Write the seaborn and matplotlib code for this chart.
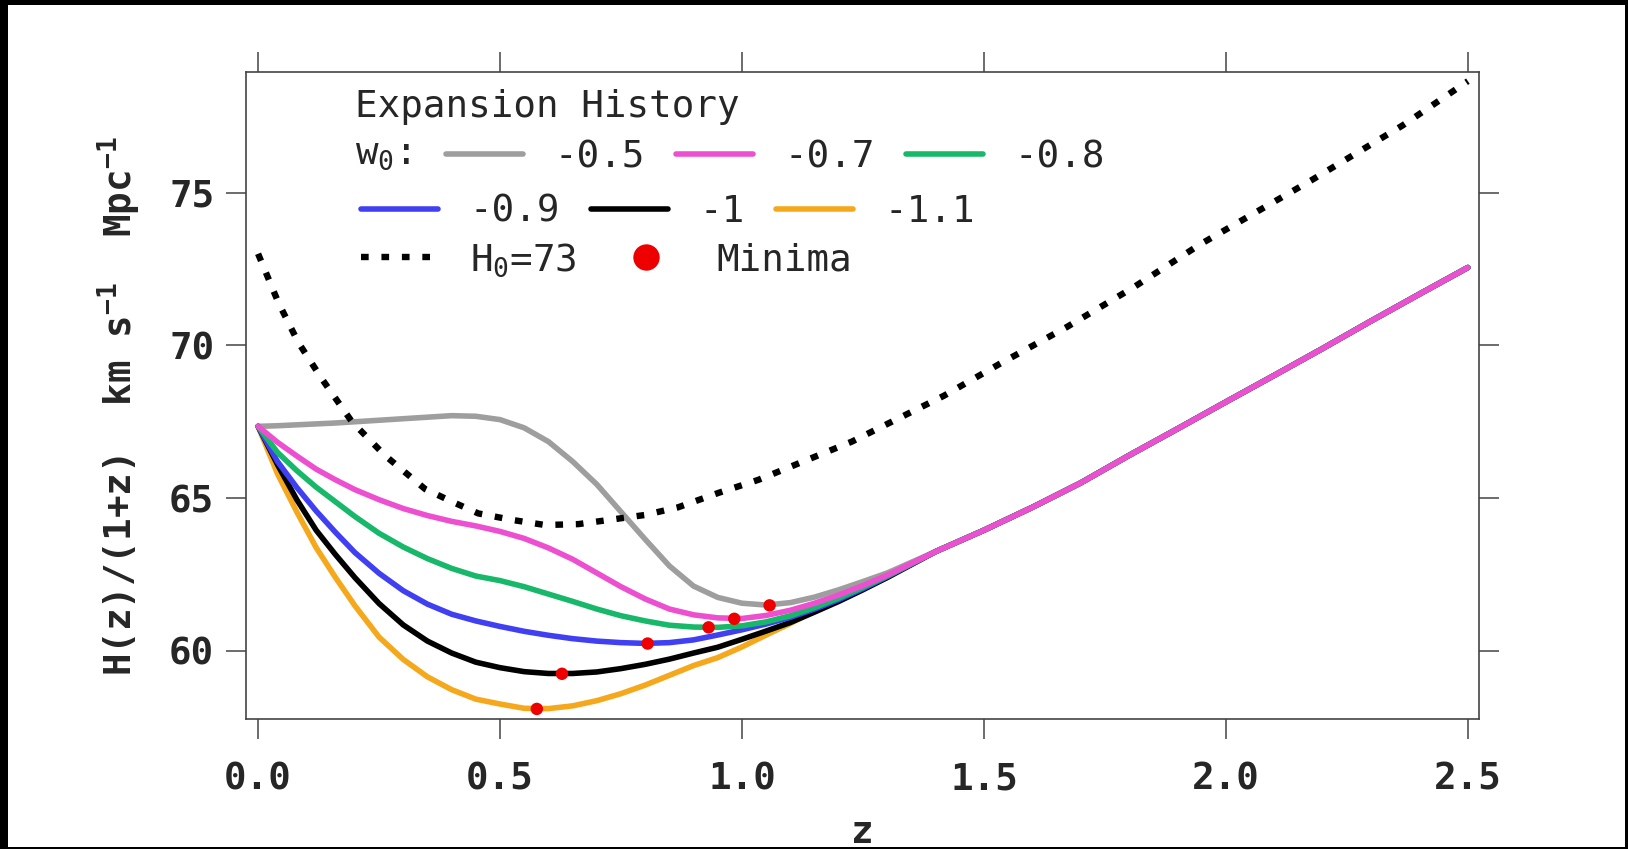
import matplotlib
matplotlib.use("Agg")
import matplotlib.pyplot as plt
from matplotlib.lines import Line2D
from matplotlib.patches import Rectangle
import numpy as np
import pandas as pd
import seaborn as sns

# redshift grid (curves differ below z~1.3, then merge)
z_early = [0, 0.04, 0.08, 0.12, 0.16, 0.2, 0.25, 0.3, 0.35, 0.4, 0.45, 0.5, 0.55, 0.6,
           0.65, 0.7, 0.75, 0.8, 0.85, 0.9, 0.95, 1.0, 1.05, 1.1, 1.15, 1.2, 1.25, 1.3]
z_tail = [1.4, 1.5, 1.6, 1.7, 1.8, 1.9, 2.0, 2.1, 2.2, 2.3, 2.4, 2.5]
h_tail = [63.25, 63.95, 64.7, 65.5, 66.4, 67.27, 68.15, 69.02, 69.9, 70.8, 71.68, 72.55]

h_w05 = [67.35, 67.37, 67.40, 67.43, 67.46, 67.50, 67.55, 67.60, 67.65, 67.70, 67.68, 67.57, 67.30, 66.85,
         66.20, 65.45, 64.55, 63.65, 62.78, 62.12, 61.75, 61.56, 61.50, 61.58, 61.76, 62.00, 62.27, 62.55]
h_w07 = [67.35, 66.83, 66.38, 65.95, 65.60, 65.28, 64.95, 64.66, 64.43, 64.24, 64.09, 63.91, 63.68, 63.37,
         63.00, 62.55, 62.10, 61.70, 61.37, 61.18, 61.08, 61.06, 61.16, 61.33, 61.56, 61.83, 62.14, 62.48]
h_w08 = [67.35, 66.50, 65.90, 65.36, 64.88, 64.40, 63.85, 63.40, 63.02, 62.70, 62.45, 62.30, 62.10, 61.86,
         61.62, 61.37, 61.15, 60.98, 60.84, 60.78, 60.77, 60.82, 60.95, 61.15, 61.42, 61.73, 62.08, 62.45]
h_w09 = [67.35, 66.20, 65.35, 64.58, 63.88, 63.22, 62.54, 61.97, 61.53, 61.20, 60.98, 60.80, 60.64, 60.51,
         60.40, 60.32, 60.27, 60.245, 60.27, 60.36, 60.52, 60.69, 60.88, 61.10, 61.37, 61.68, 62.04, 62.43]
h_w10 = [67.35, 66.10, 64.95, 63.95, 63.15, 62.40, 61.55, 60.85, 60.32, 59.93, 59.63, 59.45, 59.32, 59.26,
         59.26, 59.31, 59.42, 59.56, 59.73, 59.93, 60.12, 60.38, 60.65, 60.93, 61.27, 61.62, 62.00, 62.40]
h_w11 = [67.35, 65.80, 64.55, 63.38, 62.40, 61.48, 60.45, 59.72, 59.15, 58.73, 58.42, 58.26, 58.12, 58.11,
         58.20, 58.37, 58.60, 58.88, 59.20, 59.52, 59.78, 60.13, 60.52, 60.90, 61.31, 61.68, 62.05, 62.40]

# H0 = 73 reference curve
z_h73 = [0, 0.042, 0.083, 0.132, 0.194, 0.262, 0.345, 0.4, 0.455, 0.524, 0.593, 0.662, 0.731, 0.8,
         0.868, 0.951, 1.034, 1.227, 1.417, 1.533, 1.671, 1.809, 1.946, 2.176, 2.365, 2.5]
h_h73 = [73.0, 71.4, 70.1, 68.9, 67.5, 66.4, 65.3, 64.89, 64.5, 64.29, 64.12, 64.15, 64.3, 64.45,
         64.7, 65.17, 65.6, 66.85, 68.35, 69.4, 70.6, 71.9, 73.3, 75.4, 77.2, 78.65]

# minima of each curve
min_z = [1.057, 0.984, 0.931, 0.805, 0.628, 0.576]
min_h = [61.49, 61.05, 60.77, 60.24, 59.25, 58.10]

w0_labels = ["-0.5", "-0.7", "-0.8", "-0.9", "-1", "-1.1"]
w0_colors = ["#9E9E9E", "#EC50D0", "#18B86A", "#4040F2", "#000000", "#F5A81C"]
draw_order = ["-0.5", "-1.1", "-1", "-0.9", "-0.8", "-0.7"]

curves = [h_w05, h_w07, h_w08, h_w09, h_w10, h_w11]
frames = []
for lab, h in zip(w0_labels, curves):
    frames.append(pd.DataFrame({"z": z_early + z_tail, "H": h + h_tail, "w0": lab}))
df = pd.concat(frames, ignore_index=True)

sns.set_style("ticks")
plt.rcParams["font.family"] = ["DejaVu Sans Mono"]
plt.rcParams["mathtext.fontset"] = "custom"
plt.rcParams["mathtext.rm"] = "DejaVu Sans Mono"
plt.rcParams["mathtext.bf"] = "DejaVu Sans Mono:bold"
plt.rcParams["mathtext.it"] = "DejaVu Sans Mono:italic"

W, H = 1628, 849
fig = plt.figure(figsize=(W / 100, H / 100), dpi=100, facecolor="black")
fig.patches.append(Rectangle((8 / W, 2 / H), (1625 - 8) / W, (847 - 5) / H,
                             transform=fig.transFigure, facecolor="white", edgecolor="none", zorder=-1))
ax = fig.add_axes([245.5 / W, 1 - 719 / H, (1479 - 245.5) / W, (719 - 72) / H])
ax.set_facecolor("white")

lw_curve = 4.0
palette = dict(zip(w0_labels, w0_colors))
sns.lineplot(data=df, x="z", y="H", hue="w0", hue_order=draw_order, palette=palette,
             estimator=None, sort=False, lw=lw_curve, legend=False, ax=ax,
             solid_joinstyle="round", solid_capstyle="round")
sns.lineplot(x=z_h73, y=h_h73, color="black", lw=4.6, estimator=None, sort=False,
             linestyle=(0, (1.2, 2.0)), dash_capstyle="butt", ax=ax)
sns.scatterplot(x=min_z, y=min_h, color="#EE0000", s=80, edgecolor="none", zorder=5, ax=ax)

ax.set_xlim(-0.026, 2.523)
ax.set_ylim(57.77, 78.95)
ax.set_xticks([0, 0.5, 1.0, 1.5, 2.0, 2.5])
ax.set_xticklabels(["0.0", "0.5", "1.0", "1.5", "2.0", "2.5"])
ax.set_yticks([60, 65, 70, 75])
for s in ax.spines.values():
    s.set_color("#444444")
    s.set_linewidth(1.2)
ax.tick_params(direction="out", length=14.5, width=1.1, color="#444444",
               top=True, right=True, labeltop=False, labelright=False, labelsize=27)
ax.tick_params(axis="x", pad=16)
ax.tick_params(axis="y", pad=8)
for t in ax.get_xticklabels() + ax.get_yticklabels():
    t.set_fontweight("bold")

ax.set_xlabel("z", fontsize=27, fontweight="bold")
ax.xaxis.set_label_coords(0.5, -(843 - 719) / 647)
ax.xaxis.label.set_va("baseline")
ax.set_ylabel(r"H(z)/(1+z)  km s$^{\mathbf{-1}}$  Mpc$^{\mathbf{-1}}$", fontsize=27, fontweight="bold")
ax.yaxis.set_label_coords((119 - 245.5) / 1233.5, (719 - 406) / 647)
ax.yaxis.label.set_va("center")

# key
fs = 27
fig.text(355 / W, 1 - 117 / H, "Expansion History", fontsize=fs, va="baseline")
fig.text(355 / W, 1 - 164 / H, r"w$_0$:", fontsize=fs, va="baseline")
common = dict(loc="center left", bbox_transform=fig.transFigure, frameon=False, borderpad=0,
              borderaxespad=0, handlelength=2.05, handletextpad=0.85, columnspacing=0.82, fontsize=fs)
row1 = [Line2D([], [], color=c, lw=lw_curve) for c in w0_colors[:3]]
leg1 = ax.legend(row1, w0_labels[:3], ncol=3, bbox_to_anchor=(446 / W, 1 - 157 / H), **common)
ax.add_artist(leg1)
row2 = [Line2D([], [], color=c, lw=lw_curve) for c in w0_colors[3:]]
leg2 = ax.legend(row2, w0_labels[3:], ncol=3, bbox_to_anchor=(361 / W, 1 - 212 / H), **common)
ax.add_artist(leg2)
row3 = [Line2D([], [], color="black", lw=4.6, linestyle=(0, (1.2, 2.0)), dash_capstyle="butt"),
        Line2D([], [], color="#EE0000", lw=0, marker="o", markersize=19, markeredgewidth=0)]
leg3 = ax.legend(row3, [r"H$_0$=73", "Minima"], ncol=2, bbox_to_anchor=(361 / W, 1 - 260 / H), **common)

fig.savefig("out.png", dpi=100, facecolor=fig.get_facecolor())
